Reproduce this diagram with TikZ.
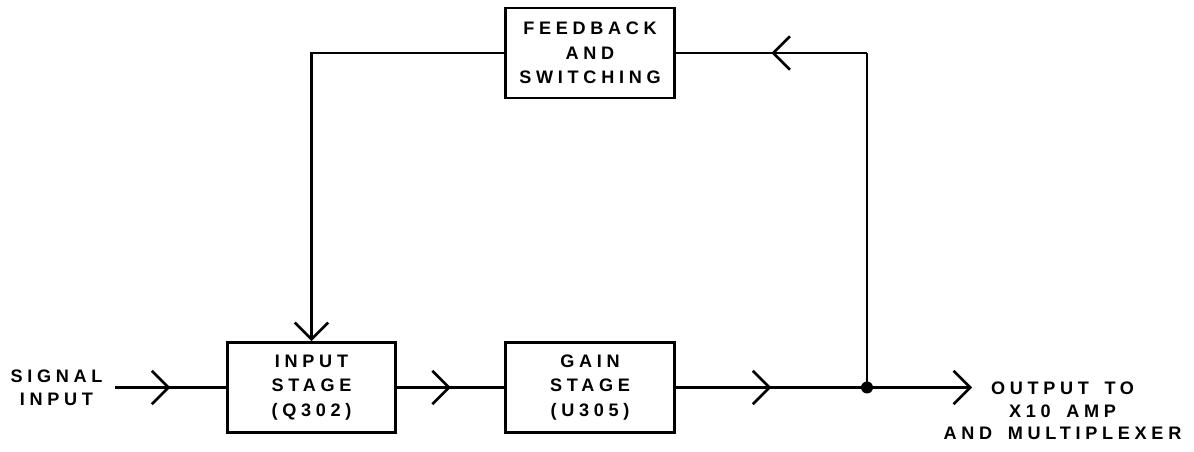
\documentclass[tikz,border=0pt]{standalone}
\usepackage{fontspec}
\setmainfont{Liberation Sans}[LetterSpace=26, WordSpace=1.6]
\usetikzlibrary{arrows.meta, decorations.markings}

\begin{document}
\begin{tikzpicture}[line width=1.5pt, line cap=butt,
    font=\fontsize{10.3}{14}\selectfont\bfseries,
    chev/.tip={Straight Barb[length=9.5pt, width=19pt]},
    blk/.style={draw, minimum width=3.37cm, minimum height=1.8cm, align=center, inner sep=2pt},
    midarrow/.style={postaction={decorate},
      decoration={markings, mark=at position 0.5 with {\arrow{chev}}}}]
  \def\yl{1.29}  % level of the main signal line
  \useasboundingbox (0,0) rectangle (23.88,9.04);

  % blocks
  \node[blk] (fb)   at (11.8,7.98) {FEEDBACK\\AND\\SWITCHING};
  \node[blk] (in)   at (6.23,\yl)  {INPUT\\STAGE\\(Q302)};
  \node[blk] (gain) at (11.8,\yl)  {GAIN\\STAGE\\(U305)};

  % terminals
  \node[align=center, font=\fontsize{10.3}{13}\selectfont\bfseries] (sig) at (1.13,\yl) {SIGNAL\\INPUT};
  \coordinate (sigstart) at (2.3,\yl);
  \node[circle, fill, inner sep=0pt, minimum size=0.24cm] (dot) at (17.34,\yl) {};
  \coordinate (outtip) at (19.44,\yl);
  \node[align=center, anchor=north, inner sep=0pt, font=\fontsize{10.3}{12.8}\selectfont\bfseries]
    (out) at (21.25,1.42) {OUTPUT TO\\X10 AMP\\AND MULTIPLEXER};
  \coordinate (corner) at (dot |- fb.east);

  % forward path
  \draw[midarrow] (sigstart) -- (in.west);
  \draw[midarrow] (in.east) -- (gain.west);
  \draw[midarrow] (gain.east) -- (dot.center);
  \draw[-chev] (dot.center) -- (outtip);

  % feedback loop
  \draw (dot.center) -- (corner);
  \draw[midarrow] (corner) -- (fb.east);
  \draw[-chev] (fb.west) -| (in.north);
\end{tikzpicture}
\end{document}
